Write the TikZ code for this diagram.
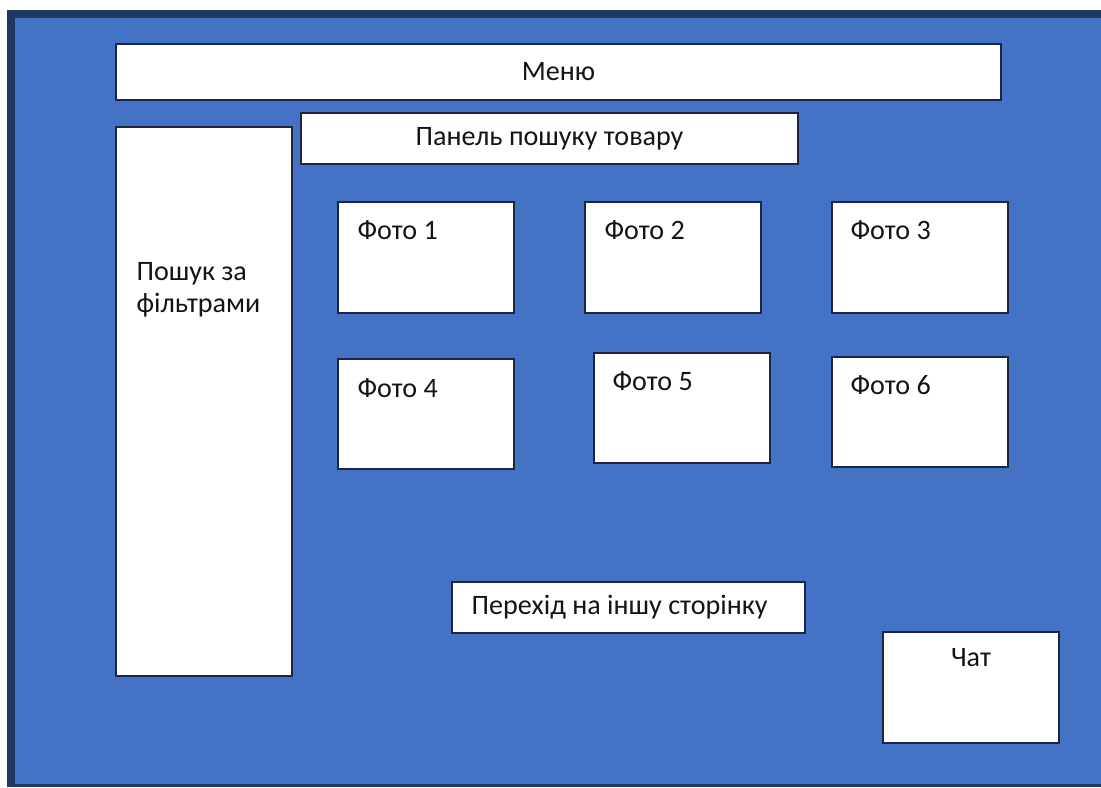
\documentclass[tikz,border=0pt]{standalone}
\usepackage{fontspec}
\setmainfont{Carlito}
\usepackage{xcolor}
\usetikzlibrary{positioning}
\definecolor{pageblue}{HTML}{4472C4}
\definecolor{framenavy}{HTML}{1F3864}
\definecolor{boxline}{HTML}{1C2541}
\definecolor{inktext}{HTML}{141414}

\begin{document}
\begin{tikzpicture}[x=0.02cm,y=-0.02cm,
    box/.style={draw=boxline, line width=0.9pt, fill=white, inner sep=0pt,
        font=\fontsize{16}{17}\selectfont, text=inktext},
    fotobox/.style={box, minimum width=3.52cm, minimum height=2.2cm},
    lbl/.style={inner sep=0pt, font=\fontsize{16}{17}\selectfont, text=inktext, align=left}]
    % page background
    \fill[white] (0,0) rectangle (1101,787);
    \fill[framenavy] (7,10) rectangle (1101,787);
    \fill[pageblue] (15,18) rectangle (1101,784);
    \useasboundingbox (0,0) rectangle (1101,787);

    % top
    \node[box, minimum width=17.7cm, minimum height=1.12cm] (menu) at (558.5,72) {Меню};
    \node[box, minimum width=9.94cm, minimum height=1.02cm] (search) at (549.5,138.5) {Панель пошуку товару};

    % filters
    \node[box, minimum width=3.52cm, minimum height=10.98cm] (filters) at (204,401.5) {};
    \node[lbl, below right=2.72cm and 0.42cm of filters.north west] (filterstext) {Пошук за\\[1pt]фільтрами};

    % photos
    \node[fotobox, minimum height=2.22cm] (foto1) at (426,257.5) {};
    \node[fotobox, minimum height=2.22cm] (foto2) at (673,257.5) {};
    \node[fotobox, minimum height=2.22cm] (foto3) at (920,257.5) {};
    \node[fotobox] (foto4) at (426,414) {};
    \node[fotobox] (foto5) at (682,408) {};
    \node[fotobox] (foto6) at (920,412) {};
    \node[lbl, below right=0.38cm and 0.4cm of foto1.north west] (foto1text) {Фото 1};
    \node[lbl, below right=0.38cm and 0.4cm of foto2.north west] (foto2text) {Фото 2};
    \node[lbl, below right=0.38cm and 0.38cm of foto3.north west] (foto3text) {Фото 3};
    \node[lbl, below right=0.4cm and 0.4cm of foto4.north west] (foto4text) {Фото 4};
    \node[lbl, below right=0.38cm and 0.38cm of foto5.north west] (foto5text) {Фото 5};
    \node[lbl, below right=0.38cm and 0.38cm of foto6.north west] (foto6text) {Фото 6};

    % bottom
    \node[box, minimum width=7.06cm, minimum height=1.02cm] (nextpage) at (628.5,607.5) {};
    \node[lbl, right=0.4cm of nextpage.west] (nextpagetext) {Перехід на іншу сторінку};
    \node[box, minimum width=3.52cm, minimum height=2.22cm] (chat) at (971,687.5) {};
    \node[lbl, below=0.34cm of chat.north] (chattext) {Чат};
\end{tikzpicture}
\end{document}
